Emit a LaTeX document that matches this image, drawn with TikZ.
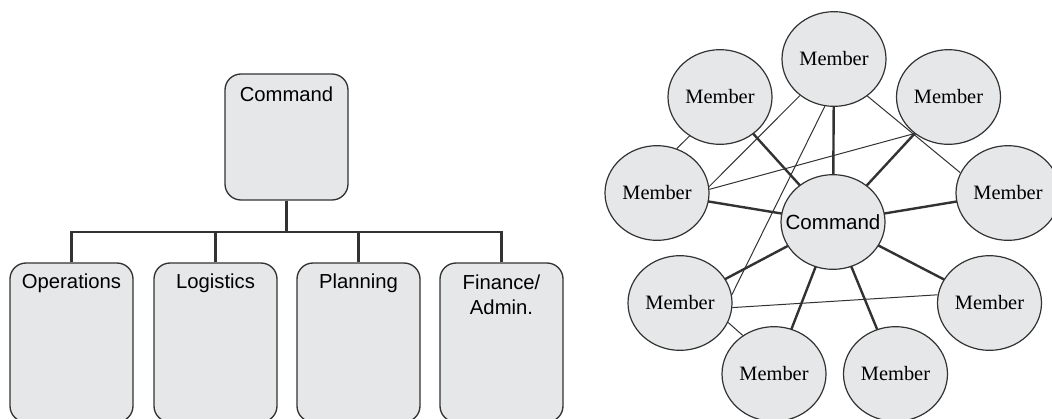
\documentclass[tikz,border=0pt]{standalone}
\usepackage{fontspec}
\setmainfont{Liberation Serif}
\setsansfont{Liberation Sans}
\usetikzlibrary{shapes.geometric,backgrounds}
\definecolor{boxfill}{RGB}{230,231,232}
\definecolor{edge}{RGB}{50,50,50}
\tikzset{
  orgbox/.style={draw=edge, line width=1pt, fill=boxfill, rounded corners=12pt, inner sep=0pt},
  boxlab/.style={font=\sffamily\fontsize{15.2}{18.75}\selectfont, align=center, inner sep=0pt},
  conn/.style={draw=edge, line width=2pt},
  circ/.style={ellipse, draw=edge, line width=0.9pt, fill=boxfill, inner sep=0pt,
               minimum width=78pt, minimum height=71pt, font=\fontsize{15.3}{18}\selectfont},
  thick link/.style={draw=edge, line width=1.8pt},
  thin link/.style={draw=edge, line width=0.75pt},
}
\begin{document}
\begin{tikzpicture}[x=0.75pt, y=-0.75pt]
\useasboundingbox (0,0) rectangle (1052,418);
\clip (0,0) rectangle (1052,418);
% ---------- hierarchy ----------
\node[orgbox, minimum width=92.25pt, minimum height=94.5pt] (cmd) at (286.5,137) {};
\node[boxlab] at ([yshift=-15.75pt]cmd.north) {Command};
\foreach \n/\x/\t in {ops/71.5/Operations, log/215.5/Logistics, pla/358.5/Planning}{
  \node[orgbox, minimum width=92.25pt, minimum height=119.25pt] (\n) at (\x,342.5) {};
  \node[boxlab] at ([yshift=-15.75pt]\n.north) {\t};
}
\node[orgbox, minimum width=92.25pt, minimum height=119.25pt] (fin) at (501.5,342.5) {};
\node[boxlab] at ([yshift=-24.4pt]fin.north) {Finance/\\Admin.};
\coordinate (bus) at (286.5,232);
\draw[conn] (cmd.south) -- (bus);
\draw[conn] (ops.north) |- (bus);
\draw[conn] (log.north) |- (bus);
\draw[conn] (pla.north) |- (bus);
\draw[conn] (fin.north) |- (bus);
% ---------- network ----------
\node[circ] (T)  at (834,59)  {Member};
\node[circ] (UL) at (720,97)  {Member};
\node[circ] (UR) at (948.5,97)  {Member};
\node[circ] (L)  at (657,193) {Member};
\node[circ] (R)  at (1008,193) {Member};
\node[circ, font=\sffamily\fontsize{15.4}{18}\selectfont] (C) at (833,222) {\makebox[0pt]{Command}};
\node[circ] (LL) at (680,303) {Member};
\node[circ] (LR) at (989.5,303) {Member};
\node[circ] (BL) at (774,374) {Member};
\node[circ] (BR) at (895.5,374) {Member};
\begin{pgfonlayer}{background}
\foreach \m in {T,UL,UR,L,R,LL,LR,BL,BR}{
  \draw[thick link] (C.center) -- (\m.center);
}
\draw[thin link] (L.66)   -- (UL.232);
\draw[thin link] (T.227)  -- (L.7);
\draw[thin link] (UR.227) -- (L.4);
\draw[thin link] (T.259)  -- (LL.9);
\draw[thin link] (T.312)  -- (R.157);
\draw[thin link] (LL.355) -- (LR.171);
\draw[thin link] (LL.338) -- (BL.129);
\end{pgfonlayer}
\end{tikzpicture}
\end{document}
